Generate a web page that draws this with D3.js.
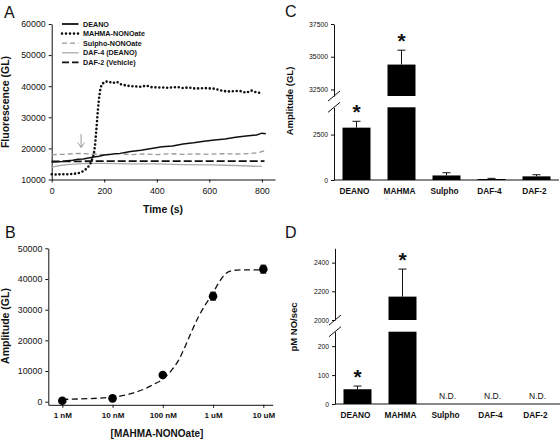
<!DOCTYPE html>
<html><head><meta charset="utf-8">
<script src="https://cdn.jsdelivr.net/npm/d3@7"></script>
<style>body{margin:0;background:#fff} text{font-family:"Liberation Sans",Arial,sans-serif;fill:#111}</style>
</head><body><svg id="c" width="560" height="441" style="background:#fff"></svg>
<script>
// ---------- Panel A data ----------
const deanoT = [0,20,40,60,80,100,120,140,160,180,200,220,240,260,280,300,340,380,420,460,500,540,580,620,660,700,740,780,800,815];
const deanoV = [15600,15700,15800,16000,16200,16500,16600,16900,17200,17500,17900,18000,18300,18400,18700,19000,19400,20000,20500,20800,21400,21800,22300,22700,23000,23600,24000,24300,24900,24700];
const mahmaT = [0,20,40,60,80,100,110,120,130,140,150,160,165,170,175,180,185,190,200,210,220,230,240,250,260,270,280,300,320,340,360,380,400,420,440,460,480,500,520,540,560,580,600,620,640,660,680,700,720,740,760,780,800];
const mahmaV = [11700,11600,11700,11700,11800,12000,12300,12700,13300,14200,15500,18000,21000,26000,31500,36000,39000,40500,41300,41500,41200,41400,41000,41300,40700,40500,40300,40000,39900,39800,40200,39700,39600,39600,39500,39600,39700,39400,39600,39300,39300,39400,39300,39200,38700,38400,38300,38500,38400,37900,38600,38000,37800];
const sulphoT = [0,50,100,150,200,250,300,350,400,450,500,550,600,650,700,750,790,810];
const sulphoV = [18000,18100,18400,18200,18000,18300,18000,18200,18000,18300,18100,18200,18100,18300,18200,18300,18700,19200];
const daf4T = [0,30,60,100,150,200,300,400,500,600,700,800];
const daf4V = [14000,14500,14800,15000,15200,15200,15000,15000,14800,14700,14500,14200];
const daf2T = [0,200,400,600,810];
const daf2V = [15800,15900,15900,15900,15900];
const legendA = ["DEANO","MAHMA-NONOate","Sulpho-NONOate","DAF-4 (DEANO)","DAF-2 (Vehicle)"];
const ticksAx = [0,200,400,600,800];
const ticksAy = [10000,20000,30000,40000,50000,60000];
const arrowT = 112, arrowFrom = 24600, arrowTo = 20300;

// ---------- Panel B data ----------
const concNM = [1,10,100,1000,10000];
const concLabels = ["1 nM","10 nM","100 nM","1 uM","10 uM"];
const ampB = [330,1100,8700,34400,43200];
const ampBErr = [300,300,400,1300,1300];
const fitNM = [1,10,24,45,70,100,150,205,275,370,510,690,930,1260,1730,2340,3700,10000];
const fitV = [760,1500,2700,4300,5900,7350,10300,13500,17800,22700,27600,31400,34600,38400,41600,42700,43000,43000];
const ticksBy = [0,10000,20000,30000,40000,50000];

// ---------- Panel C data ----------
const cats = ["DEANO","MAHMA","Sulpho","DAF-4","DAF-2"];
const ampC = [2880,34400,250,55,200];
const ampCErr = [350,1100,150,35,90];
const starC = [true,true,false,false,false];
const ticksClow = [0,2500], ticksCup = [32500,35000,37500];

// ---------- Panel D data ----------
const rateD = [51,2163,null,null,null];
const rateDErr = [11,192,null,null,null];
const starD = [true,true,false,false,false];
const ticksDlow = [0,100,200], ticksDup = [2000,2200,2400];

const svg = d3.select("#c");
const FONT = '"Liberation Sans",Arial,sans-serif';

function styleAxis(g, fs, bold){
  g.selectAll("path.domain").attr("stroke","#111").attr("stroke-width",1);
  g.selectAll(".tick line").attr("stroke","#111");
  g.selectAll(".tick text").attr("font-size",fs).attr("font-family",FONT).attr("fill","#111")
    .attr("font-weight",bold?"bold":"normal");
}
function panelLabel(t,x,y){ svg.append("text").attr("x",x).attr("y",y).attr("font-size",16).text(t); }

// ================= Panel A =================
const xA = d3.scaleLinear().domain([0,850]).range([51.7,275]);
const yA = d3.scaleLinear().domain([10000,60000]).range([179.5,24]);
const gA = svg.append("g");
styleAxis(gA.append("g").attr("transform","translate(51.7,0)")
  .call(d3.axisLeft(yA).tickValues(ticksAy).tickSize(3).tickSizeOuter(0).tickPadding(3).tickFormat(d3.format("d"))),8.8,false);
styleAxis(gA.append("g").attr("transform","translate(0,179.5)")
  .call(d3.axisBottom(xA).tickValues(ticksAx).tickSize(3).tickSizeOuter(0).tickPadding(5).tickFormat(d3.format("d"))),8.8,false);
const lineA = (T,V)=> d3.line().x((d,i)=>xA(T[i])).y((d,i)=>yA(V[i]))(V);
const seriesA = [
  {T:daf4T,V:daf4V,stroke:"#aaa",w:1.3,dash:null,cap:"butt"},
  {T:sulphoT,V:sulphoV,stroke:"#999",w:1.3,dash:"5,3",cap:"butt"},
  {T:daf2T,V:daf2V,stroke:"#111",w:1.8,dash:"8,3",cap:"butt"},
  {T:deanoT,V:deanoV,stroke:"#111",w:1.5,dash:null,cap:"butt"},
  {T:mahmaT,V:mahmaV,stroke:"#111",w:2.6,dash:"0,3.9",cap:"round"}
];
seriesA.forEach(s=>{
  gA.append("path").attr("d",lineA(s.T,s.V)).attr("fill","none").attr("stroke",s.stroke)
    .attr("stroke-width",s.w).attr("stroke-dasharray",s.dash).attr("stroke-linecap",s.cap);
});
// arrow
const ax = xA(arrowT), ay1 = yA(arrowFrom), ay2 = yA(arrowTo);
gA.append("path").attr("d",`M${ax},${ay1}L${ax},${ay2}M${ax-3.5},${ay2-5}L${ax},${ay2}L${ax+3.5},${ay2-5}`)
  .attr("fill","none").attr("stroke","#999").attr("stroke-width",1);
// legend
const legStyles = [
  {stroke:"#111",w:1.8,dash:null,cap:"butt"},
  {stroke:"#111",w:2.6,dash:"0,4",cap:"round"},
  {stroke:"#999",w:1.3,dash:"5,3",cap:"butt"},
  {stroke:"#aaa",w:1.3,dash:null,cap:"butt"},
  {stroke:"#111",w:1.8,dash:"7,3",cap:"butt"}
];
legendA.forEach((t,i)=>{
  const y = 24 + i*9.6;
  gA.append("line").attr("x1",62).attr("x2",78.5).attr("y1",y).attr("y2",y)
    .attr("stroke",legStyles[i].stroke).attr("stroke-width",legStyles[i].w)
    .attr("stroke-dasharray",legStyles[i].dash).attr("stroke-linecap",legStyles[i].cap);
  gA.append("text").attr("x",83).attr("y",y+2.5).attr("font-size",7.2).attr("font-weight","bold").text(t);
});
gA.append("text").attr("transform","translate(9,102) rotate(-90)").attr("text-anchor","middle")
  .attr("font-size",10.5).attr("font-weight","bold").text("Fluorescence (GL)");
gA.append("text").attr("x",163).attr("y",212.5).attr("text-anchor","middle")
  .attr("font-size",10.5).attr("font-weight","bold").text("Time (s)");
panelLabel("A",4,18);

// ================= Panel B =================
const xB0 = d3.scaleLog().domain([1,10000]).range([62.3,263.3]);
const xB = d3.scaleLog().domain([xB0.invert(48.3), xB0.invert(272.7)]).range([48.3,272.7]);
const yB = d3.scaleLinear().domain([-1000,50000]).range([404.8,248.3]);
const gB = svg.append("g");
styleAxis(gB.append("g").attr("transform","translate(48.3,0)")
  .call(d3.axisLeft(yB).tickValues(ticksBy).tickSize(3).tickSizeOuter(0).tickPadding(3).tickFormat(d3.format("d"))),8.8,false);
styleAxis(gB.append("g").attr("transform","translate(0,404.8)")
  .call(d3.axisBottom(xB).tickValues(concNM).tickSize(3).tickSizeOuter(0).tickPadding(5).tickFormat((d,i)=>concLabels[i])),8,true);
gB.append("path").attr("d",d3.line().curve(d3.curveMonotoneX).x((d,i)=>xB(fitNM[i])).y(d=>yB(d))(fitV))
  .attr("fill","none").attr("stroke","#111").attr("stroke-width",1.3).attr("stroke-dasharray","6,3.5");
concNM.forEach((c,i)=>{
  const x = xB(c), y1 = yB(ampB[i]-ampBErr[i]), y2 = yB(ampB[i]+ampBErr[i]);
  gB.append("path").attr("d",`M${x},${y1}L${x},${y2}M${x-3},${y1}L${x+3},${y1}M${x-3},${y2}L${x+3},${y2}`)
    .attr("stroke","#111").attr("stroke-width",1).attr("fill","none");
  gB.append("circle").attr("cx",x).attr("cy",yB(ampB[i])).attr("r",4.3).attr("fill","#000");
});
gB.append("text").attr("transform","translate(9,326) rotate(-90)").attr("text-anchor","middle")
  .attr("font-size",10.5).attr("font-weight","bold").text("Amplitude (GL)");
gB.append("text").attr("x",157).attr("y",437).attr("text-anchor","middle")
  .attr("font-size",10).attr("font-weight","bold").text("[MAHMA-NONOate]");
panelLabel("B",5,238);

// ================= broken bar panels =================
function brokenPanel(o){
  const g = svg.append("g");
  const x = d3.scaleBand().domain(cats).range([o.x0,o.x1]).paddingInner(0.378).paddingOuter(0.189);
  const yL = d3.scaleLinear().domain(o.lowDom).range(o.lowRange);
  const yU = d3.scaleLinear().domain(o.upDom).range(o.upRange);
  styleAxis(g.append("g").attr("transform",`translate(${o.x0},0)`)
    .call(d3.axisLeft(yL).tickValues(o.lowTicks).tickSize(3).tickSizeOuter(0).tickPadding(3).tickFormat(d3.format("d"))),6.8,false);
  styleAxis(g.append("g").attr("transform",`translate(${o.x0},0)`)
    .call(d3.axisLeft(yU).tickValues(o.upTicks).tickSize(3).tickSizeOuter(0).tickPadding(3).tickFormat(d3.format("d"))),6.8,false);
  // break slashes
  [o.upRange[0], o.lowRange[1]].forEach(yb=>{
    g.append("line").attr("x1",o.x0-6).attr("x2",o.x0+6).attr("y1",yb+5).attr("y2",yb-5)
      .attr("stroke","#111").attr("stroke-width",1);
  });
  // x axis
  g.append("line").attr("x1",o.x0).attr("x2",o.x1).attr("y1",o.lowRange[0]).attr("y2",o.lowRange[0])
    .attr("stroke","#111").attr("stroke-width",1);
  const lowMax = o.lowDom[1], upMin = o.upDom[0];
  const ys = v => v>lowMax ? yU(v) : yL(v);
  cats.forEach((c,i)=>{
    const v = o.vals[i], bx = x(c), bw = x.bandwidth(), cx = bx+bw/2;
    g.append("text").attr("x",cx-2).attr("y",o.catY).attr("text-anchor","middle")
      .attr("font-size",8.3).attr("font-weight","bold").text(c);
    if(v==null){
      g.append("text").attr("x",cx).attr("y",o.lowRange[0]-5).attr("text-anchor","middle")
        .attr("font-size",8.5).attr("fill","#222").text("N.D.");
      return;
    }
    const e = o.errs[i], top = v+e;
    g.append("path").attr("d",`M${cx},${ys(v)}L${cx},${ys(top)}M${cx-4},${ys(top)}L${cx+4},${ys(top)}`)
      .attr("stroke","#111").attr("stroke-width",1).attr("fill","none");
    const lt = yL(Math.min(v,lowMax));
    g.append("rect").attr("x",bx).attr("width",bw).attr("y",lt).attr("height",yL(0)-lt).attr("fill","#000");
    if(v>lowMax){
      g.append("rect").attr("x",bx).attr("width",bw).attr("y",yU(v)).attr("height",yU(upMin)-yU(v)).attr("fill","#000");
    }
    if(o.stars[i]){
      g.append("text").attr("x",cx).attr("y",ys(top)-2).attr("text-anchor","middle")
        .attr("font-size",21).attr("font-weight","bold").text("*");
    }
  });
  g.append("text").attr("transform",`translate(${o.titleX},${o.titleY}) rotate(-90)`).attr("text-anchor","middle")
    .attr("font-size",9.5).attr("font-weight","bold").text(o.title);
}
brokenPanel({x0:334,x1:559,lowDom:[0,4000],lowRange:[180,107.3],upDom:[32000,37500],upRange:[96,24],
  lowTicks:ticksClow,upTicks:ticksCup,vals:ampC,errs:ampCErr,stars:starC,catY:194,
  title:"Amplitude (GL)",titleX:293,titleY:101});
brokenPanel({x0:335,x1:560,lowDom:[0,250],lowRange:[404,331.7],upDom:[2000,2500],upRange:[320,248.3],
  lowTicks:ticksDlow,upTicks:ticksDup,vals:rateD,errs:rateDErr,stars:starD,catY:418,
  title:"pM NO/sec",titleX:297,titleY:327});
panelLabel("C",285,17);
panelLabel("D",285,238);
</script></body></html>
